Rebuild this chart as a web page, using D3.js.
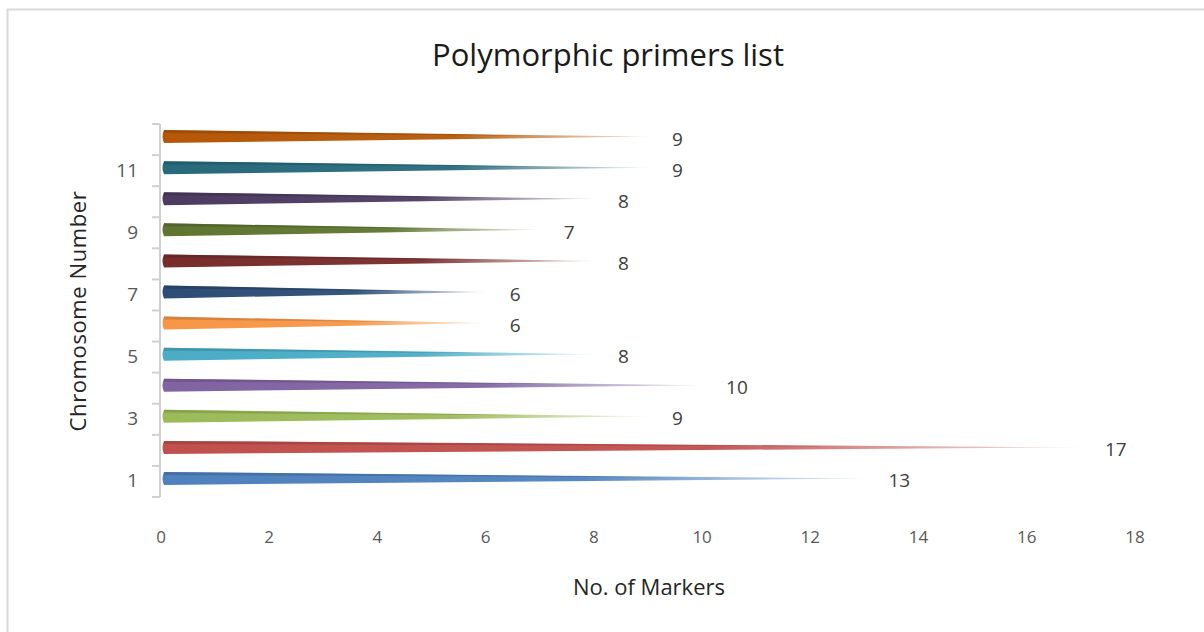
<!DOCTYPE html>
<html>
<head>
<meta charset="utf-8">
<script src="https://cdn.jsdelivr.net/npm/d3@7"></script>
<style>
    body{ margin: 0; background: #fff; }
    svg text{ font-family: "Open Sans", "Noto Sans", sans-serif; fill: #595959; }
</style>
</head>
<body>
<div id="chart"></div>
<script>
// chromosome numbers and polymorphic marker counts
const chromosomes = [1, 2, 3, 4, 5, 6, 7, 8, 9, 10, 11, 12];
const markers = [13, 17, 9, 10, 8, 6, 6, 8, 7, 8, 9, 9];
const barColors = ["#4F81BD", "#C0504D", "#9BBB59", "#8064A2", "#4BACC6", "#F79646",
                   "#2C4D75", "#772C2A", "#5F7530", "#4D3B62", "#276A7C", "#B65708"];
const xTicks = [0, 2, 4, 6, 8, 10, 12, 14, 16, 18];
const yTickLabels = [1, 3, 5, 7, 9, 11];

const width = 1204, height = 632;
const dataset = chromosomes.map((c, i) => ({chrom: c, value: markers[i], color: barColors[i]}));

const svg = d3.select("#chart").append("svg")
    .attr("width", width)
    .attr("height", height);

// chart border
svg.append("rect")
    .attr("x", 7.5).attr("y", 9.5)
    .attr("width", 1210).attr("height", 640)
    .attr("fill", "#fff")
    .attr("stroke", "#d9d9d9")
    .attr("stroke-width", 2);

const xScale = d3.scaleLinear()
    .domain([0, 18])
    .range([161, 1135]);

const yScale = d3.scaleBand()
    .domain(chromosomes)
    .range([497, 124]);

// bars sit a little above the middle of their band (3D perspective)
const barCenter = c => yScale(c) + yScale.bandwidth() / 2 - 3;

// gradients, one per bar
const defs = svg.append("defs");
dataset.forEach((d, i) => {
    const grad = defs.append("linearGradient")
        .attr("id", "cone" + i)
        .attr("x1", "0%").attr("x2", "100%");
    grad.append("stop").attr("offset", "0%").attr("stop-color", d.color);
    grad.append("stop").attr("offset", "60%").attr("stop-color", d.color).attr("stop-opacity", 0.95);
    grad.append("stop").attr("offset", "100%").attr("stop-color", d.color).attr("stop-opacity", 0.15);
});

// title
svg.append("text")
    .attr("x", 608).attr("y", 66)
    .attr("text-anchor", "middle")
    .style("font-size", "31px")
    .style("fill", "#1a1a1a")
    .text("Polymorphic primers list");

// y axis line + ticks at band boundaries
const axisG = svg.append("g").attr("stroke", "#d0d0d0").attr("stroke-width", 2);
axisG.append("line")
    .attr("x1", xScale(0) - 1).attr("x2", xScale(0) - 1)
    .attr("y1", yScale.range()[1]).attr("y2", yScale.range()[0]);
const boundaries = chromosomes.map(c => yScale(c) + yScale.bandwidth()).concat([yScale.range()[1]]);
axisG.selectAll("line.tick")
    .data(boundaries)
    .enter().append("line")
        .classed("tick", true)
        .attr("x1", xScale(0) - 9).attr("x2", xScale(0) - 1)
        .attr("y1", d => d).attr("y2", d => d);

// y tick labels
svg.append("g").selectAll("text")
    .data(yTickLabels)
    .enter().append("text")
        .attr("x", 138)
        .attr("y", d => barCenter(d) + 9)
        .attr("text-anchor", "end")
        .style("font-size", "19px")
        .text(d => d);

// x tick labels
svg.append("g").selectAll("text")
    .data(xTicks)
    .enter().append("text")
        .attr("x", d => xScale(d))
        .attr("y", 543)
        .attr("text-anchor", "middle")
        .style("font-size", "17px")
        .text(d => d);

// axis titles
svg.append("text")
    .attr("x", 649).attr("y", 595)
    .attr("text-anchor", "middle")
    .style("font-size", "22px")
    .style("fill", "#262626")
    .text("No. of Markers");

svg.append("text")
    .attr("transform", `translate(86, 311) rotate(-90)`)
    .attr("text-anchor", "middle")
    .style("font-size", "22px")
    .style("letter-spacing", "0.6px")
    .style("fill", "#262626")
    .text("Chromosome Number");

// cone bars
const barH = 13;
const bars = svg.append("g").selectAll("g")
    .data(dataset)
    .enter().append("g");

bars.append("path")
    .attr("fill", (d, i) => `url(#cone${i})`)
    .attr("d", d => {
        const cy = barCenter(d.chrom);
        const x0 = xScale(0) + 3;
        return `M${x0},${cy - barH / 2} L${xScale(d.value)},${cy} L${x0},${cy + barH / 2} ` +
               `Q${x0 - 3},${cy} ${x0},${cy - barH / 2}Z`;
    });

// darker top edge for the 3D look
bars.append("path")
    .attr("fill", d => d3.color(d.color).darker(0.7))
    .attr("opacity", 0.6)
    .attr("d", d => {
        const cy = barCenter(d.chrom);
        const x0 = xScale(0) + 3;
        return `M${x0},${cy - barH / 2} L${xScale(d.value) * 0.75 + x0 * 0.25},${cy - 1} L${x0},${cy - barH / 2 + 3}Z`;
    });

// data labels
bars.append("text")
    .attr("x", d => xScale(d.value) + 24)
    .attr("y", d => barCenter(d.chrom) + 9)
    .style("font-size", "19px")
    .style("fill", "#404040")
    .text(d => d.value);
</script>
</body>
</html>
